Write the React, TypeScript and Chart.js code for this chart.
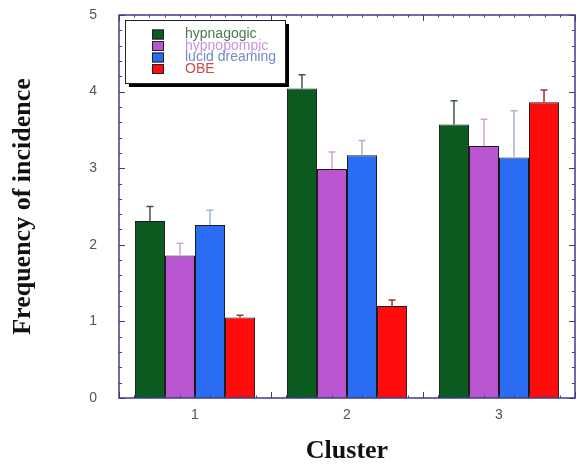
import React, { useEffect, useRef } from "react";
import { Chart, registerables } from "chart.js";

Chart.register(...registerables);

const categories = ["1", "2", "3"];
const seriesNames = ["hypnagogic", "hypnopompic", "lucid dreaming", "OBE"];
const hypnagogic = [2.31, 4.04, 3.57];
const hypnagogicErr = [0.19, 0.18, 0.31];
const hypnopompic = [1.86, 2.99, 3.29];
const hypnopompicErr = [0.16, 0.22, 0.35];
const lucid = [2.26, 3.17, 3.14];
const lucidErr = [0.19, 0.19, 0.61];
const obe = [1.05, 1.2, 3.86];
const obeErr = [0.03, 0.08, 0.16];
const yTicks = [0, 1, 2, 3, 4, 5];

const barColors = ["#0b5a1f", "#b955d0", "#2a6cf2", "#ff0b0b"];
const errColors = ["#3c5a3c", "#d6a0dc", "#a6b6d6", "#a03030"];
const legendTextColors = ["#4a7a4a", "#c894dc", "#6f8cc8", "#d04a4a"];
const axisColor = "#3c3c8c";

const values = [hypnagogic, hypnopompic, lucid, obe];
const errors = [hypnagogicErr, hypnopompicErr, lucidErr, obeErr];

const errorBarPlugin = {
  id: "errorBars",
  afterDatasetsDraw(chart: any) {
    const ctx = chart.ctx;
    const y = chart.scales.y;
    chart.data.datasets.forEach((ds: any, i: number) => {
      const meta = chart.getDatasetMeta(i);
      meta.data.forEach((el: any, j: number) => {
        const v = ds.data[j];
        const e = errors[i][j];
        const y0 = y.getPixelForValue(v);
        const y1 = y.getPixelForValue(v + e);
        ctx.save();
        ctx.strokeStyle = errColors[i];
        ctx.lineWidth = 1.5;
        ctx.beginPath();
        ctx.moveTo(el.x, y0);
        ctx.lineTo(el.x, y1);
        ctx.moveTo(el.x - 3.5, y1);
        ctx.lineTo(el.x + 3.5, y1);
        ctx.stroke();
        ctx.restore();
      });
    });
  },
};

const framePlugin = {
  id: "frame",
  afterDatasetsDraw(chart: any) {
    const ctx = chart.ctx;
    const { left, right, top, bottom } = chart.chartArea;
    const y = chart.scales.y;
    ctx.save();
    ctx.strokeStyle = axisColor;
    ctx.lineWidth = 1.5;
    ctx.strokeRect(left, top, right - left, bottom - top);
    ctx.lineWidth = 1;
    ctx.beginPath();
    for (let k = 0; k <= 25; k++) {
      const v = k * 0.2;
      const py = Math.round(y.getPixelForValue(v)) + 0.5;
      const len = k % 5 === 0 ? 6 : 3;
      ctx.moveTo(left, py);
      ctx.lineTo(left + len, py);
      ctx.moveTo(right, py);
      ctx.lineTo(right - len, py);
    }
    const catW = (right - left) / categories.length;
    for (let k = 0; k <= categories.length * 10; k++) {
      const px = Math.round(left + (k * catW) / 10) + 0.5;
      const len = k % 10 === 0 ? 6 : 2.5;
      ctx.moveTo(px, bottom);
      ctx.lineTo(px, bottom - len);
      ctx.moveTo(px, top);
      ctx.lineTo(px, top + len);
    }
    ctx.stroke();
    ctx.restore();
  },
  afterDraw(chart: any) {
    const ctx = chart.ctx;
    const bx = 125, by = 20, bw = 160, bh = 63;
    ctx.save();
    ctx.fillStyle = "#000";
    ctx.fillRect(bx + 4, by + 4, bw, bh);
    ctx.fillStyle = "#fff";
    ctx.fillRect(bx, by, bw, bh);
    ctx.strokeStyle = "#222";
    ctx.lineWidth = 1;
    ctx.strokeRect(bx + 0.5, by + 0.5, bw, bh);
    ctx.font = "14px Arial, 'Liberation Sans', sans-serif";
    ctx.textBaseline = "middle";
    chart.data.datasets.forEach((ds: any, i: number) => {
      const cy = by + 14.5 + i * 11.5;
      ctx.fillStyle = barColors[i];
      ctx.fillRect(152, cy - 5, 12, 10);
      ctx.strokeStyle = "#222";
      ctx.strokeRect(152.5, cy - 4.5, 11, 9);
      ctx.fillStyle = legendTextColors[i];
      ctx.fillText(ds.label, 185, cy);
    });
    ctx.restore();
  },
};

export default function App() {
  const ref = useRef<HTMLCanvasElement>(null);
  useEffect(() => {
    if (!ref.current) return;
    const chart = new Chart(ref.current, {
      type: "bar",
      data: {
        labels: categories,
        datasets: values.map((vals, i) => ({
          label: seriesNames[i],
          data: vals,
          backgroundColor: barColors[i],
          borderColor: "#1a1a1a",
          borderWidth: 1,
          categoryPercentage: 0.79,
          barPercentage: 1.0,
        })),
      },
      options: {
        animation: false,
        responsive: false,
        maintainAspectRatio: false,
        layout: { padding: { left: 0, right: 2, top: 15, bottom: 0 } },
        plugins: {
          legend: { display: false },
          tooltip: { enabled: false },
        },
        scales: {
          x: {
            grid: { display: false, drawTicks: false },
            border: { display: false },
            ticks: {
              color: "#555",
              font: { family: "Arial, 'Liberation Sans', sans-serif", size: 14 },
              padding: 9,
            },
            title: {
              display: true,
              text: "Cluster",
              color: "#111",
              font: { family: "'Liberation Serif', 'DejaVu Serif', serif", size: 26, weight: "bold" },
              padding: { top: 18, bottom: 0 },
            },
            afterFit: (s: any) => {
              s.height = 69;
              s.paddingLeft = 0;
              s.paddingRight = 0;
            },
          },
          y: {
            min: 0,
            max: 5,
            grid: { display: false, drawTicks: false },
            border: { display: false },
            ticks: {
              stepSize: 1,
              color: "#555",
              font: { family: "Arial, 'Liberation Sans', sans-serif", size: 14 },
              padding: 22,
              callback: (v: any) => (yTicks.includes(Number(v)) ? String(v) : ""),
            },
            title: {
              display: true,
              text: "Frequency of incidence",
              color: "#111",
              font: { family: "'Liberation Serif', 'DejaVu Serif', serif", size: 26, weight: "bold" },
              padding: { top: 8, bottom: 0 },
            },
            afterFit: (s: any) => {
              s.width = 119;
              s.paddingTop = 0;
              s.paddingBottom = 0;
            },
          },
        },
      },
      plugins: [errorBarPlugin, framePlugin],
    });
    return () => chart.destroy();
  }, []);
  return (
    <div style={{ position: "fixed", left: 0, top: 0, width: 577, height: 467, background: "#fff" }}>
      <canvas ref={ref} width={577} height={467} />
    </div>
  );
}
